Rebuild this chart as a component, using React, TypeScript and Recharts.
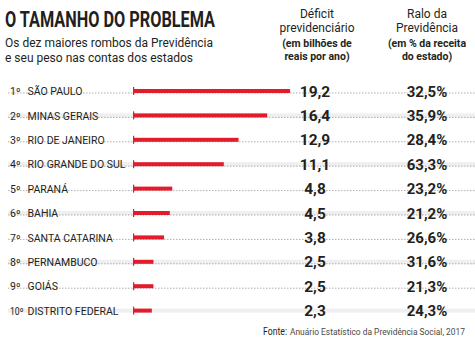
import React from 'react';
import { BarChart, Bar, XAxis, YAxis, LabelList } from 'recharts';

const estados = [
  'SÃO PAULO',
  'MINAS GERAIS',
  'RIO DE JANEIRO',
  'RIO GRANDE DO SUL',
  'PARANÁ',
  'BAHIA',
  'SANTA CATARINA',
  'PERNAMBUCO',
  'GOIÁS',
  'DISTRITO FEDERAL',
];
const deficit = [19.2, 16.4, 12.9, 11.1, 4.8, 4.5, 3.8, 2.5, 2.5, 2.3];
const ralo = [32.5, 35.9, 28.4, 63.3, 23.2, 21.2, 26.6, 31.6, 21.3, 24.3];

const data = estados.map((estado, i) => ({
  estado,
  rank: i + 1,
  deficit: deficit[i],
  ralo: ralo[i],
}));

const RED = '#e31b2a';
const INK = '#231f20';
const SHADE = '#efeff1';
const FONT = 'Roboto, sans-serif';

const fmt = (v: number) => v.toFixed(1).replace('.', ',');

// row band: shading on even rows + dashed divider below
const RowBackground = (props: any) => {
  const { y, height, index } = props;
  return (
    <g>
      {index % 2 === 1 && <rect x={8} y={y} width={467} height={height} fill={SHADE} />}
      {index < estados.length - 1 && (
        <line x1={8} x2={475} y1={y + height} y2={y + height} stroke="#9b9b9b" strokeWidth={0.8} strokeDasharray="1.5 1.5" />
      )}
    </g>
  );
};

const BarShape = (props: any) => {
  const { x, y, width, height } = props;
  const cy = y + height / 2;
  return (
    <g>
      <rect x={x} y={y} width={width} height={height} fill={RED} />
      <rect x={x} y={cy - 4} width={1.2} height={8} fill={RED} />
    </g>
  );
};

const NameTick = (props: any) => {
  const { y, payload, index } = props;
  const rank = index + 1;
  return (
    <g fill={INK} fontFamily={FONT}>
      <text x={10} y={y + 4} fontSize={10.5} {...(rank > 9 ? { textLength: 13.5, lengthAdjust: 'spacingAndGlyphs' } : {})}>
        {rank}
        <tspan fontSize={10}>º</tspan>
      </text>
      <text x={27.5} y={y + 4} fontSize={10.5}>
        {payload.value}
      </text>
    </g>
  );
};

const DeficitLabel = (props: any) => {
  const { y, height, value } = props;
  return (
    <text x={315} y={y + height / 2 + 5.5} textAnchor="middle" fontFamily={FONT} fontWeight={700} fontSize={15.5} fill={INK}>
      {fmt(value)}
    </text>
  );
};

const RaloLabel = (props: any) => {
  const { y, height, value } = props;
  return (
    <text x={427} y={y + height / 2 + 5.5} textAnchor="middle" fontFamily={FONT} fontWeight={700} fontSize={15} fill={INK}>
      {fmt(value)}%
    </text>
  );
};

export default function App() {
  return (
    <div style={{ position: 'absolute', left: 0, top: 0, width: 475, height: 341, background: '#fff' }}>
      <BarChart
        layout="vertical"
        width={475}
        height={341}
        data={data}
        margin={{ top: 79, right: 0, bottom: 18, left: 0 }}
        barSize={4}
      >
        <XAxis type="number" domain={[0, 41.8]} hide />
        <Bar
          dataKey="deficit"
          isAnimationActive={false}
          background={RowBackground}
          shape={BarShape}
        >
          <LabelList dataKey="deficit" content={DeficitLabel} />
          <LabelList dataKey="ralo" content={RaloLabel} />
        </Bar>
        <YAxis
          type="category"
          dataKey="estado"
          width={133}
          axisLine={false}
          tickLine={false}
          tick={NameTick}
          interval={0}
        />
      </BarChart>

      <svg width={475} height={341} style={{ position: 'absolute', left: 0, top: 0, pointerEvents: 'none' }}>
        <text x={5} y={27} fontFamily={FONT} fontWeight={700} fontSize={22} fill={INK} textLength={210} lengthAdjust="spacingAndGlyphs">
          O TAMANHO DO PROBLEMA
        </text>
        <text x={5} y={47} fontFamily={FONT} fontSize={12.5} fill={INK} textLength={208} lengthAdjust="spacingAndGlyphs">
          Os dez maiores rombos da Previdência
        </text>
        <text x={5} y={62} fontFamily={FONT} fontSize={12.5} fill={INK} textLength={188} lengthAdjust="spacingAndGlyphs">
          e seu peso nas contas dos estados
        </text>

        <g textAnchor="middle" fill={INK} fontFamily={FONT}>
          <text x={317} y={18} fontSize={12}>Déficit</text>
          <text x={317} y={32} fontSize={12}>previdenciário</text>
          <text x={317} y={47} fontSize={10.5} fontWeight={700}>(em bilhões de</text>
          <text x={317} y={60} fontSize={10.5} fontWeight={700}>reais por ano)</text>

          <text x={427} y={18} fontSize={12}>Ralo da</text>
          <text x={427} y={32} fontSize={12}>Previdência</text>
          <text x={427} y={47} fontSize={10.5} fontWeight={700}>(em % da receita</text>
          <text x={427} y={60} fontSize={10.5} fontWeight={700}>do estado)</text>
        </g>

        <text x={263} y={335} fontFamily={FONT} fontSize={10} fill={INK} textLength={24} lengthAdjust="spacingAndGlyphs">
          Fonte:
        </text>
        <text x={290} y={335} fontFamily={FONT} fontSize={9.5} fill="#4a4a4a" textLength={175} lengthAdjust="spacingAndGlyphs">
          Anuário Estatístico da Previdência Social, 2017
        </text>
      </svg>
    </div>
  );
}
